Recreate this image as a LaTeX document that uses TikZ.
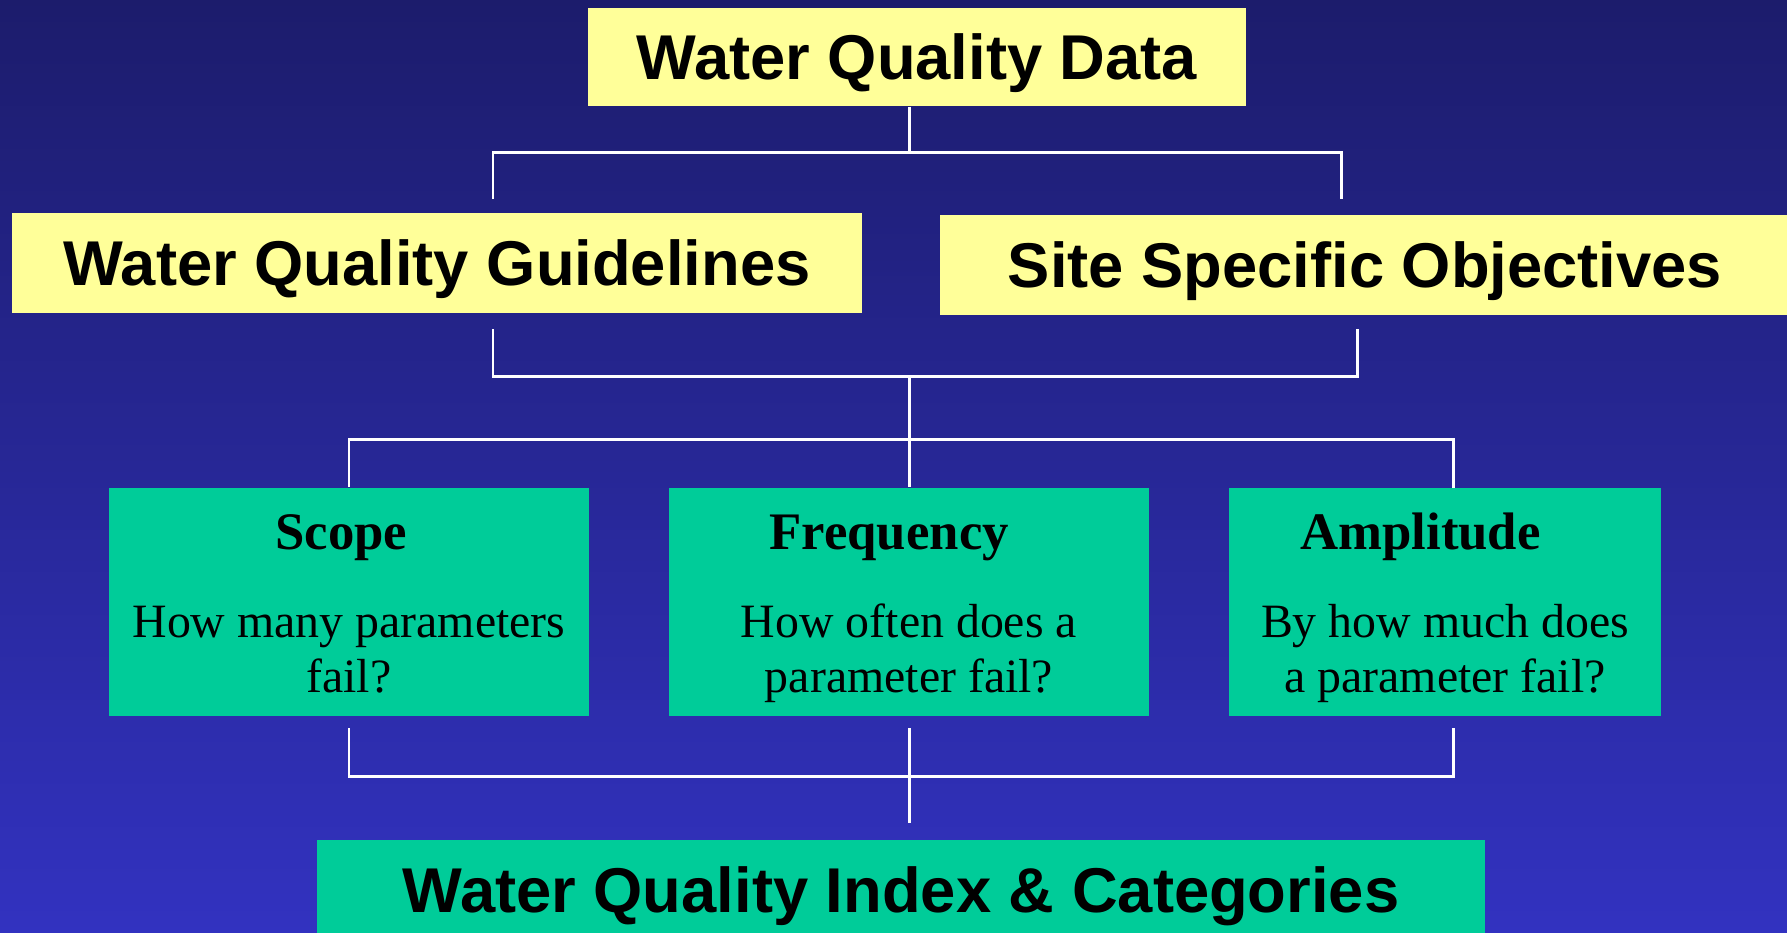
\documentclass[tikz,border=0pt]{standalone}
\usepackage{fontspec}
\setmainfont{Liberation Serif}
\newfontfamily\headfont{Liberation Sans}
\definecolor{navytop}{RGB}{28,28,108}
\definecolor{navybottom}{RGB}{50,50,192}
\definecolor{boxyellow}{RGB}{255,255,153}
\definecolor{boxgreen}{RGB}{0,204,153}
\tikzset{
    link/.style={draw=white, line width=0.85pt},
    headbox/.style={fill=boxyellow, inner sep=0pt, text height=13pt, text depth=0pt,
        minimum height=1cm, font=\headfont\bfseries\fontsize{18}{21.6}\selectfont},
    indexbox/.style={headbox, fill=boxgreen},
    askbox/.style={fill=boxgreen, inner sep=0pt, minimum height=2.28cm, align=flush center,
        font=\fontsize{13.6}{15.9}\selectfont},
}
% bold heading line of a green box, #2 pushes it a bit to the left
\newcommand{\asktitle}[2]{{\fontsize{15}{18}\selectfont\bfseries\rule{0pt}{13.8pt}#1\rule{#2}{0pt}}\\[9.1pt]}
\newcommand{\asklast}{\rule[-3pt]{0pt}{3pt}}

\begin{document}
\begin{tikzpicture}[x=0.01cm, y=-0.01cm]
\useasboundingbox (0,0) rectangle (1787,932);
\shade[top color=navytop, bottom color=navybottom] (0,0) rectangle (1787,932);

% boxes
\node[headbox, minimum width=6.58cm, minimum height=0.98cm] (data) at (917,57) {Water Quality Data};
\node[headbox, minimum width=8.5cm] (wqg) at (437,263) {Water Quality Guidelines};
\node[headbox, minimum width=8.5cm] (sso) at (1365,265) {Site Specific Objectives};
\node[askbox, text width=4.8cm] (scope) at (349,602)
    {\asktitle{Scope}{4.3pt}How many parameters\\ fail?\asklast};
\node[askbox, text width=4.8cm] (freq) at (909,602)
    {\asktitle{Frequency}{11.3pt}How often does a\\ parameter fail?\asklast};
\node[askbox, text width=4.32cm] (ampl) at (1445,602)
    {\asktitle{Amplitude}{13.9pt}By how much does\\ a parameter fail?\asklast};
\node[indexbox, minimum width=11.68cm, minimum height=0.99cm] (index) at (901,889.5)
    {Water Quality Index \& Categories};

% joints of the tree
\coordinate (fork1) at (909,152);
\coordinate (wqg in) at (493,199);
\coordinate (sso in) at (1341,199);
\coordinate (wqg out) at (493,329);
\coordinate (sso out) at (1357,329);
\coordinate (fork2) at (909,376);
\coordinate (fork3) at (909,439);
\coordinate (ampl in) at (1453,488);
\coordinate (scope out) at (349,728);
\coordinate (freq out) at (909,728);
\coordinate (ampl out) at (1453,728);
\coordinate (fork4) at (909,776);
\coordinate (index in) at (909,823);

\draw[link] (data.south -| fork1) -- (fork1);
\draw[link] (wqg in) |- (fork1) -| (sso in);
\draw[link] (wqg out) |- (fork2) -| (sso out);
\draw[link] (fork2) -- (fork3);
\draw[link] (scope.north) |- (fork3) -| (ampl in);
\draw[link] (fork3) -- (freq.north);
\draw[link] (scope out) |- (fork4) -| (ampl out);
\draw[link] (freq out) -- (index in);
\end{tikzpicture}
\end{document}
